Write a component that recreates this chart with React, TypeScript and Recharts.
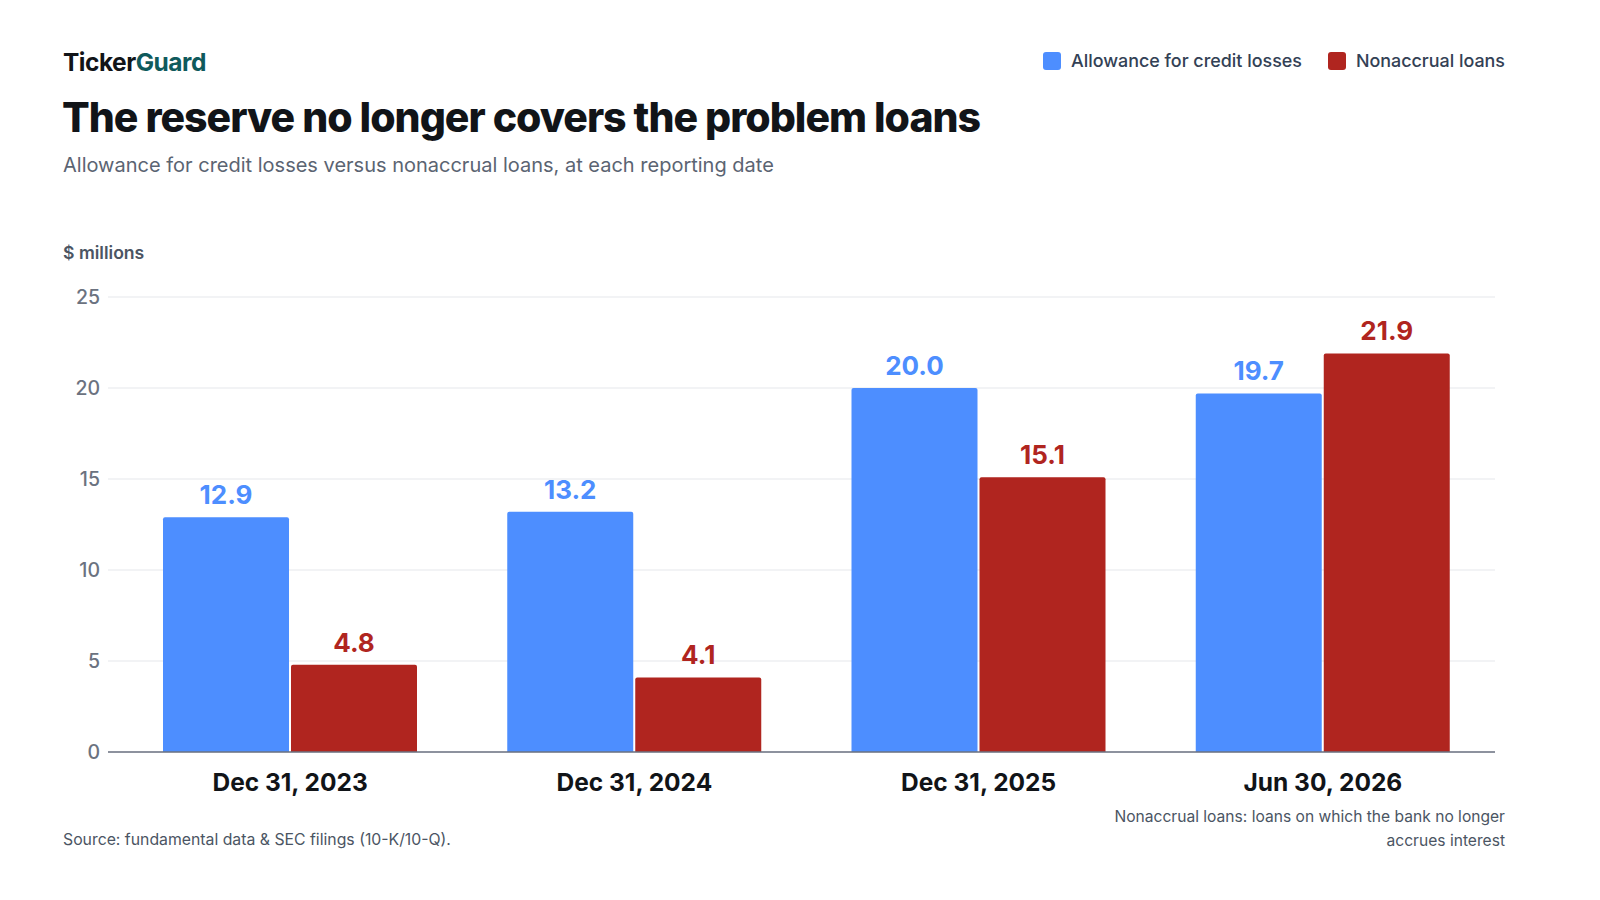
import React from 'react';
import { BarChart, Bar, XAxis, YAxis, CartesianGrid, LabelList } from 'recharts';

const periods = ['Dec 31, 2023', 'Dec 31, 2024', 'Dec 31, 2025', 'Jun 30, 2026'];
const allowance = [12.9, 13.2, 20.0, 19.7];
const nonaccrual = [4.8, 4.1, 15.1, 21.9];
const yTicks = [0, 5, 10, 15, 20, 25];

const BLUE = '#4d8eff';
const RED = '#b0251f';
const FONT = 'Inter, "Noto Sans", sans-serif';

const data = periods.map((period, i) => ({
  period,
  allowance: allowance[i],
  nonaccrual: nonaccrual[i],
}));

const LegendItem: React.FC<{ color: string; label: string }> = ({ color, label }) => (
  <div style={{ display: 'flex', alignItems: 'center', gap: 10 }}>
    <span style={{ width: 18, height: 18, borderRadius: 3, background: color, display: 'inline-block' }} />
    <span>{label}</span>
  </div>
);

export default function App() {
  return (
    <div
      style={{
        position: 'absolute',
        left: 0,
        top: 0,
        width: 1600,
        height: 900,
        background: '#fff',
        fontFamily: FONT,
        overflow: 'hidden',
      }}
    >
      {/* header */}
      <div style={{ position: 'absolute', left: 63, top: 47, fontSize: 24.5, fontWeight: 700, letterSpacing: -0.5, color: '#111418' }}>
        Ticker<span style={{ color: '#0f5a5c' }}>Guard</span>
      </div>
      <div
        style={{
          position: 'absolute',
          right: 95,
          top: 50,
          display: 'flex',
          gap: 26,
          fontSize: 17.9,
          fontWeight: 500,
          color: '#334155',
        }}
      >
        <LegendItem color={BLUE} label="Allowance for credit losses" />
        <LegendItem color={RED} label="Nonaccrual loans" />
      </div>
      <div style={{ position: 'absolute', left: 62, top: 92, fontSize: 41, fontWeight: 800, letterSpacing: -1.0, color: '#111418' }}>
        The reserve no longer covers the problem loans
      </div>
      <div style={{ position: 'absolute', left: 63, top: 153, fontSize: 20, color: '#5b6472' }}>
        Allowance for credit losses versus nonaccrual loans, at each reporting date
      </div>
      <div style={{ position: 'absolute', left: 63, top: 242, fontSize: 17.6, fontWeight: 600, color: '#4b5563' }}>
        $ millions
      </div>

      {/* chart */}
      <div style={{ position: 'absolute', left: 0, top: 280 }}>
        <BarChart
          width={1600}
          height={530}
          data={data}
          margin={{ top: 17, right: 105, bottom: 8, left: 48 }}
          barSize={126}
          barGap={2}
        >
          <CartesianGrid vertical={false} stroke="#e5e7eb" strokeWidth={1.2} />
          <XAxis
            dataKey="period"
            height={50}
            padding={{ left: 10, right: 0 }}
            tickLine={false}
            axisLine={{ stroke: '#6b7280', strokeWidth: 1.5 }}
            tickMargin={16}
            tick={{ fill: '#111418', fontSize: 24.5, fontWeight: 700, fontFamily: FONT }}
          />
          <YAxis
            width={60}
            domain={[0, 25]}
            ticks={yTicks}
            axisLine={false}
            tickLine={false}
            tick={{ fill: '#6b7280', fontSize: 19.5, fontWeight: 500, fontFamily: FONT }}
          />
          <Bar dataKey="allowance" fill={BLUE} radius={[2, 2, 0, 0]} isAnimationActive={false}>
            <LabelList
              dataKey="allowance"
              position="top"
              offset={13}
              formatter={(v: number) => v.toFixed(1)}
              style={{ fill: BLUE, fontSize: 26, fontWeight: 700, fontFamily: FONT }}
            />
          </Bar>
          <Bar dataKey="nonaccrual" fill={RED} radius={[2, 2, 0, 0]} isAnimationActive={false}>
            <LabelList
              dataKey="nonaccrual"
              position="top"
              offset={13}
              formatter={(v: number) => v.toFixed(1)}
              style={{ fill: RED, fontSize: 26, fontWeight: 700, fontFamily: FONT }}
            />
          </Bar>
        </BarChart>
      </div>

      {/* footer */}
      <div style={{ position: 'absolute', left: 63, top: 830, fontSize: 15.8, color: '#4b5563' }}>
        Source: fundamental data &amp; SEC filings (10-K/10-Q).
      </div>
      <div
        style={{
          position: 'absolute',
          right: 95,
          top: 805,
          width: 410,
          textAlign: 'right',
          fontSize: 15.6,
          lineHeight: '24px',
          color: '#4b5563',
        }}
      >
        Nonaccrual loans: loans on which the bank no longer accrues interest
      </div>
    </div>
  );
}
